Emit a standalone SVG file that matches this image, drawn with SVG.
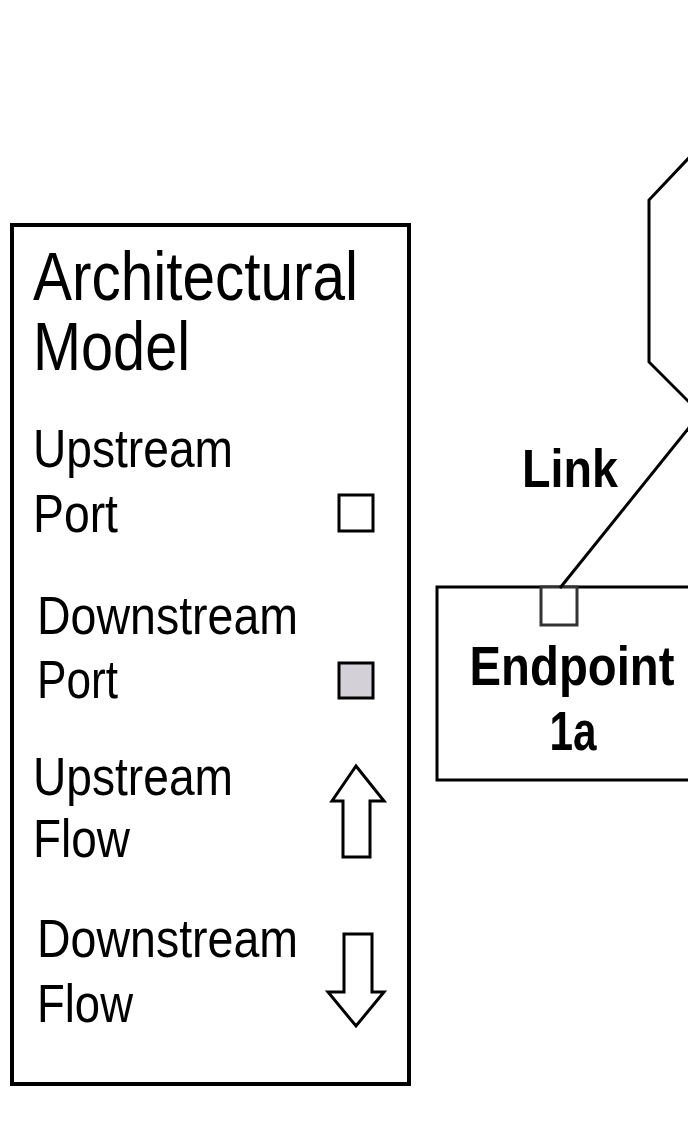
<svg xmlns="http://www.w3.org/2000/svg" width="688" height="1145" viewBox="0 0 688 1145">
<style>
.t{font-family:"Liberation Sans",Arial,sans-serif;fill:#000}
.lg{font-size:54px}
.b{font-weight:bold}
.ln{fill:none;stroke:#000;stroke-width:3}
.port{fill:#fff;stroke:#000;stroke-width:3}
</style>
<rect width="688" height="1145" fill="#fff"/>
<g id="legend">
<rect x="12" y="225" width="397" height="859" fill="#fff" stroke="#000" stroke-width="4"/>
<text class="t" x="33" y="300" font-size="68" textLength="325" lengthAdjust="spacingAndGlyphs">Architectural</text>
<text class="t" x="33" y="370" font-size="68" textLength="157" lengthAdjust="spacingAndGlyphs">Model</text>
<text class="t lg" x="33" y="467" textLength="200" lengthAdjust="spacingAndGlyphs">Upstream</text>
<text class="t lg" x="33" y="532" textLength="85" lengthAdjust="spacingAndGlyphs">Port</text>
<rect class="port" x="339" y="495" width="34" height="36"/>
<text class="t lg" x="37" y="634" textLength="261" lengthAdjust="spacingAndGlyphs">Downstream</text>
<text class="t lg" x="37" y="698" textLength="81" lengthAdjust="spacingAndGlyphs">Port</text>
<rect x="339" y="663" width="34" height="35" fill="#d4d0d8" stroke="#000" stroke-width="3"/>
<text class="t lg" x="33" y="795" textLength="200" lengthAdjust="spacingAndGlyphs">Upstream</text>
<text class="t lg" x="33" y="857" textLength="97" lengthAdjust="spacingAndGlyphs">Flow</text>
<polygon class="ln" points="356,766 384,801 370,801 370,857 343,857 343,801 332,801"/>
<text class="t lg" x="37" y="957" textLength="261" lengthAdjust="spacingAndGlyphs">Downstream</text>
<text class="t lg" x="37" y="1022" textLength="96" lengthAdjust="spacingAndGlyphs">Flow</text>
<polygon class="ln" points="344,934 372,934 372,992 384,992 356,1026 328,992 344,992"/>
</g>
<g id="switch">
<polyline class="ln" points="700,146 649,200 649,362 700,413"/>
</g>
<g id="endpoint-1a">
<rect x="437" y="587" width="300" height="193" fill="#fff" stroke="#000" stroke-width="3"/>
<rect x="541" y="587" width="36" height="38" fill="#fff" stroke="#333" stroke-width="3"/>
<text class="t b" transform="translate(572,685) scale(0.86,1)" x="0" y="0" font-size="55" text-anchor="middle">Endpoint</text>
<text class="t b" x="573" y="750" font-size="56" text-anchor="middle" textLength="47" lengthAdjust="spacingAndGlyphs">1a</text>
</g>
<g id="connectors">
<line class="ln" x1="560" y1="588" x2="700" y2="414"/>
<text class="t b" x="522" y="487" font-size="54" textLength="96" lengthAdjust="spacingAndGlyphs">Link</text>
</g>
</svg>
